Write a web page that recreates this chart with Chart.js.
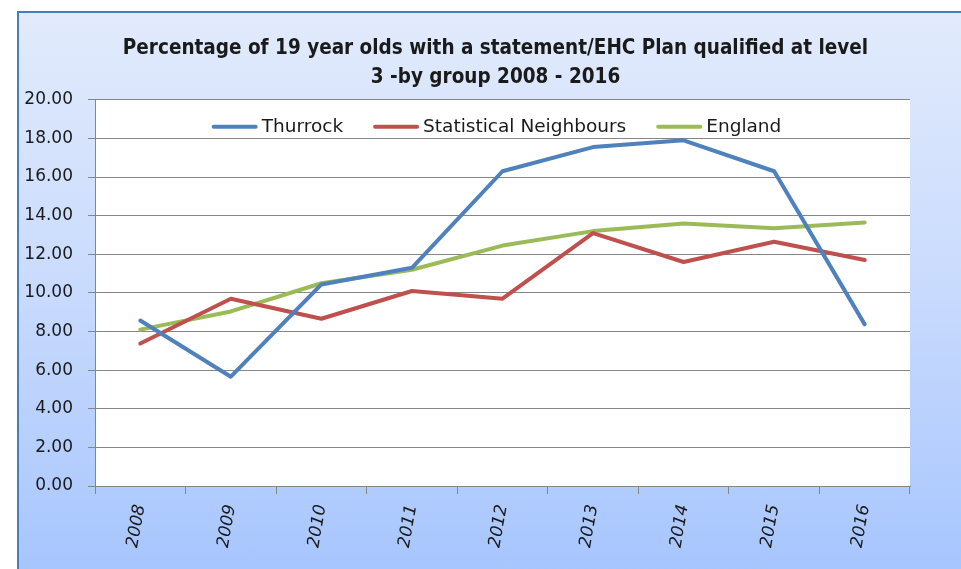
<!DOCTYPE html>
<html>
<head>
<meta charset="utf-8">
<script src="https://cdn.jsdelivr.net/npm/chart.js@4/dist/chart.umd.min.js"></script>
<style>
  html, body { margin: 0; padding: 0; background: #ffffff; }
  body { width: 961px; height: 569px; position: relative; overflow: hidden; }
  .frame {
    position: absolute; left: 17px; top: 11px; right: -10px; bottom: -10px;
    border-left: 2px solid #4a7ebb; border-top: 2px solid #4a7ebb;
    background: linear-gradient(to bottom, #e2ebfc 0%, #c8dafd 50%, #a6c5fe 100%);
  }
  #wrap { position: absolute; left: 0; top: 0; width: 961px; height: 569px; }
</style>
</head>
<body>
<div class="frame"></div>
<div id="wrap"><canvas id="chart"></canvas></div>
<script>
const years = ["2008", "2009", "2010", "2011", "2012", "2013", "2014", "2015", "2016"];
const thurrock = [8.57, 5.66, 10.44, 11.3, 16.3, 17.55, 17.9, 16.3, 8.37];
const statNeighbours = [7.38, 9.7, 8.66, 10.1, 9.7, 13.1, 11.6, 12.65, 11.7];
const england = [8.1, 9.04, 10.5, 11.2, 12.45, 13.2, 13.6, 13.35, 13.65];
const yTicks = [0, 2, 4, 6, 8, 10, 12, 14, 16, 18, 20];
const titleLines = [
  "Percentage of 19 year olds with a statement/EHC Plan qualified at level",
  "3 -by group 2008 - 2016"
];

const gridColor = "#868686";
const textColor = "#1a1a1a";
const tickFont = "\"DejaVu Sans\", sans-serif";

// white plot area behind the lines
const plotBackground = {
  id: "plotBackground",
  afterLayout(chart) {
    // title in the original sits a little left of the plot centre
    if (chart.titleBlock) chart.titleBlock.left -= 14;
  },
  beforeDraw(chart) {
    const { ctx, chartArea } = chart;
    ctx.save();
    ctx.fillStyle = "#ffffff";
    ctx.fillRect(chartArea.left, chartArea.top, chartArea.right - chartArea.left, chartArea.bottom - chartArea.top);
    ctx.restore();
  }
};

// horizontal legend sitting inside the top of the plot area
const insideLegend = {
  id: "insideLegend",
  afterDatasetsDraw(chart) {
    const { ctx, chartArea } = chart;
    const lineW = 46, gap = 4, spacing = 30;
    ctx.save();
    ctx.font = "18.5px " + tickFont;
    ctx.textBaseline = "middle";
    const sets = chart.data.datasets;
    const widths = sets.map((ds) => lineW + gap + ctx.measureText(ds.label).width);
    const total = widths.reduce((a, b) => a + b, 0) + spacing * (sets.length - 1);
    let x = (chartArea.left + chartArea.right) / 2 - total / 2 - 6;
    const y = chartArea.top + 27;
    sets.forEach((ds, i) => {
      ctx.strokeStyle = ds.borderColor;
      ctx.lineWidth = 4;
      ctx.lineCap = "round";
      ctx.beginPath();
      ctx.moveTo(x + 2, y);
      ctx.lineTo(x + lineW - 2, y);
      ctx.stroke();
      ctx.fillStyle = textColor;
      ctx.fillText(ds.label, x + lineW + gap, y);
      x += widths[i] + spacing;
    });
    ctx.restore();
  }
};

function makeLine(label, data, color) {
  return {
    label: label,
    data: data,
    borderColor: color,
    backgroundColor: color,
    borderWidth: 4,
    pointRadius: 0,
    tension: 0,
    fill: false,
    borderCapStyle: "round",
    borderJoinStyle: "round"
  };
}

new Chart(document.getElementById("chart"), {
  type: "line",
  data: {
    labels: years,
    datasets: [
      makeLine("Thurrock", thurrock, "#4f81bd"),
      makeLine("Statistical Neighbours", statNeighbours, "#c0504d"),
      makeLine("England", england, "#9bbb59")
    ]
  },
  plugins: [plotBackground, insideLegend],
  options: {
    responsive: true,
    maintainAspectRatio: false,
    animation: false,
    layout: {
      padding: { left: 17, right: 51, top: 0, bottom: 0 }
    },
    plugins: {
      title: {
        display: true,
        fullSize: false,
        text: titleLines,
        color: textColor,
        font: { family: "\"Liberation Sans Narrow\", \"DejaVu Sans Condensed\", sans-serif", size: 20.5, weight: "bold", lineHeight: 1.41 },
        padding: { top: 34, bottom: 8 }
      },
      legend: { display: false },
      tooltip: { enabled: false }
    },
    scales: {
      x: {
        offset: true,
        grid: {
          offset: true,
          drawOnChartArea: false,
          drawTicks: true,
          tickLength: 8,
          color: gridColor
        },
        border: { color: gridColor, width: 1 },
        ticks: {
          color: textColor,
          minRotation: 80,
          maxRotation: 80,
          padding: 9,
          font: { family: tickFont, size: 17, style: "italic" }
        },
        afterFit(scale) {
          scale.height = 83;
        }
      },
      y: {
        min: 0,
        max: 20,
        grid: {
          color: gridColor,
          tickLength: 7,
          drawTicks: true
        },
        border: { color: gridColor, width: 1 },
        afterBuildTicks(scale) {
          scale.ticks = yTicks.map((v) => ({ value: v }));
        },
        ticks: {
          color: textColor,
          padding: 15,
          font: { family: tickFont, size: 17 },
          callback(value) {
            return Number(value).toFixed(2);
          }
        },
        afterFit(scale) {
          scale.width = 78;
        }
      }
    }
  }
});
</script>
</body>
</html>
